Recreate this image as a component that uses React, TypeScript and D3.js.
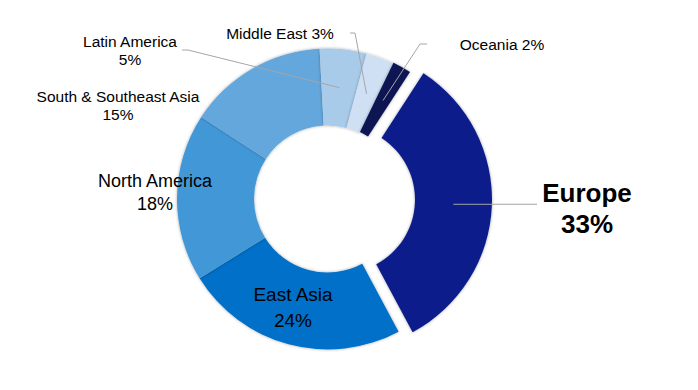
import React from "react";
import * as d3 from "d3";

const categories = [
  "Europe",
  "East Asia",
  "North America",
  "South & Southeast Asia",
  "Latin America",
  "Middle East",
  "Oceania",
];
const shares = [33, 24, 18, 15, 5, 3, 2];

const colors = ["#0f1f8b", "#0070c8", "#4397d7", "#63a7dd", "#a8cbe9", "#cfe0f4", "#0a1452"];

type LabelCfg = {
  x: number;
  y: number;
  size: number;
  bold?: boolean;
  oneLine?: boolean;
  lineGap: number;
  leader?: { start: [number, number]; elbow?: [number, number]; r: number; horizontal?: boolean };
};

const labelCfg: LabelCfg[] = [
  { x: 587, y: 202, size: 26, bold: true, lineGap: 31, leader: { start: [537, 0], r: 112, horizontal: true } },
  { x: 293, y: 301, size: 19, lineGap: 26 },
  { x: 155, y: 187, size: 18, lineGap: 23 },
  { x: 118, y: 102, size: 15.5, lineGap: 18 },
  { x: 130, y: 47, size: 15.5, lineGap: 18, leader: { start: [182, 50], elbow: [188, 50], r: 112 } },
  { x: 280, y: 39, size: 15.5, oneLine: true, lineGap: 0, leader: { start: [350, 33], elbow: [355, 33], r: 112 } },
  { x: 502, y: 50, size: 15.5, oneLine: true, lineGap: 0, leader: { start: [427, 44], elbow: [420, 44], r: 112 } },
];

const W = 698;
const H = 390;
const cx = 327.5;
const cy = 199;
const rOuter = 150.5;
const rInner = 73.5;
const explode = [14, 0, 0, 0, 0, 0, 1];
const startDeg = 33;

export default function App() {
  const pie = d3
    .pie<number>()
    .sort(null)
    .value((d) => d)
    .startAngle((startDeg * Math.PI) / 180)
    .endAngle((startDeg * Math.PI) / 180 + 2 * Math.PI);
  const arcs = pie(shares);
  const arc = d3.arc<d3.PieArcDatum<number>>().innerRadius(rInner).outerRadius(rOuter);

  const offsets = arcs.map((a, i) => {
    const m = (a.startAngle + a.endAngle) / 2;
    return [explode[i] * Math.sin(m), -explode[i] * Math.cos(m)];
  });

  const font = "'Liberation Sans', Arial, sans-serif";

  return (
    <svg width={W} height={H} style={{ position: "absolute", left: 0, top: 0, background: "#fff" }}>
      <defs>
        <filter id="sh" x="-20%" y="-20%" width="140%" height="140%">
          <feDropShadow dx="0" dy="0" stdDeviation="1.6" floodColor="#000" floodOpacity="0.35" />
        </filter>
      </defs>
      <g transform={`translate(${cx},${cy})`}>
        {arcs.map((a, i) => (
          <path
            key={categories[i]}
            d={arc(a) || ""}
            fill={colors[i]}
            transform={`translate(${offsets[i][0]},${offsets[i][1]})`}
            filter="url(#sh)"
          />
        ))}
      </g>
      {arcs.map((a, i) => {
        const cfg = labelCfg[i];
        if (!cfg.leader) return null;
        const m = (a.startAngle + a.endAngle) / 2;
        const px = cx + offsets[i][0] + cfg.leader.r * Math.sin(m);
        const py = cy + offsets[i][1] - cfg.leader.r * Math.cos(m);
        const pts: [number, number][] = cfg.leader.horizontal
          ? [
              [cfg.leader.start[0], py],
              [px, py],
            ]
          : [cfg.leader.start, cfg.leader.elbow as [number, number], [px, py]];
        return (
          <path
            key={"l" + i}
            d={d3.line()(pts) || ""}
            fill="none"
            stroke="#a6a6a6"
            strokeWidth={1}
          />
        );
      })}
      {categories.map((c, i) => {
        const cfg = labelCfg[i];
        const pct = `${shares[i]}%`;
        return (
          <text
            key={"t" + i}
            x={cfg.x}
            y={cfg.y}
            textAnchor="middle"
            fontFamily={font}
            fontSize={cfg.size}
            fontWeight={cfg.bold ? "bold" : "normal"}
            fill="#000"
          >
            {cfg.oneLine ? (
              `${c} ${pct}`
            ) : (
              <>
                <tspan x={cfg.x} dy={0}>
                  {c}
                </tspan>
                <tspan x={cfg.x} dy={cfg.lineGap}>
                  {pct}
                </tspan>
              </>
            )}
          </text>
        );
      })}
    </svg>
  );
}
